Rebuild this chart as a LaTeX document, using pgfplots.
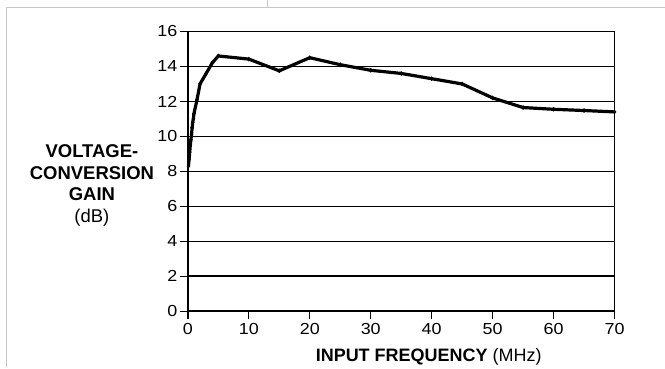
\documentclass[border=0pt]{standalone}
\usepackage{fontspec}
\setmainfont{Liberation Sans}
\usepackage{graphicx}
\usepackage{pgfplots}
\pgfplotsset{compat=1.18}
\begin{document}
\begin{tikzpicture}
\path (0,0) rectangle (665pt,367pt);
\draw[black!22, line width=1pt] (7pt,0) -- (7pt,359.5pt) -- (665pt,359.5pt);
\draw[black!22, line width=1pt] (268pt,359.5pt) -- (268pt,367pt);
\begin{axis}[
  at={(188pt,56pt)}, anchor=south west,
  scale only axis, width=427pt, height=280pt,
  xmin=0, xmax=70, ymin=0, ymax=16,
  xtick={0,10,...,70}, ytick={0,2,...,16},
  xtick pos=bottom, ytick pos=left,
  tick align=outside, major tick length=8pt,
  tick style={black, line width=1.3pt},
  axis line style={black, line width=1.8pt},
  ymajorgrids, grid style={black, line width=1.6pt},
  /pgf/number format/assume math mode=true,
  tick label style={font=\fontsize{16}{18}\selectfont},
  xticklabel={\scalebox{1.12}[1]{\pgfmathprintnumber{\tick}}},
  yticklabel={\scalebox{1.12}[1]{\pgfmathprintnumber{\tick}}},
  yticklabel style={xshift=1pt},
  xticklabel style={yshift=-1pt},
]
\addplot[black, line width=3.2pt, mark=diamond*, mark size=2pt, mark options={line width=0.5pt}] coordinates {
(0.1,8.3) (0.2,8.7) (0.3,9.1) (0.4,9.5) (0.5,9.8) (0.6,10.1) (0.7,10.5) (0.8,10.8) (0.9,11.0) (1.0,11.3)
(1.5,12.1) (2,13.0) (3,13.6) (4,14.2) (5,14.6) (10,14.42) (15,13.75) (20,14.5) (25,14.1) (30,13.78)
(35,13.6) (40,13.3) (45,13.0) (50,12.2) (55,11.65) (60,11.55) (65,11.48) (70,11.4)
};
\end{axis}
\node[align=center, font=\fontsize{18.5}{21.5}\selectfont] at (92pt,182pt)
  {\textbf{VOLTAGE-}\\\textbf{CONVERSION}\\\textbf{GAIN}\\(dB)};
\node[font=\fontsize{18}{21}\selectfont] at (429pt,10.5pt) {\textbf{INPUT FREQUENCY} (MHz)};
\end{tikzpicture}
\end{document}
